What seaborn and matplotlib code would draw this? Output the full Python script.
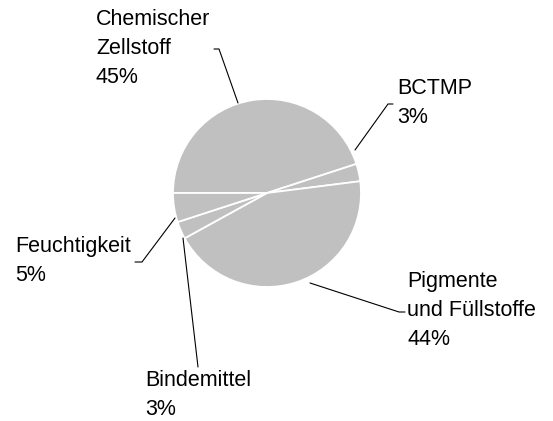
import matplotlib
matplotlib.use("Agg")
import matplotlib.pyplot as plt
import seaborn as sns

# Zusammensetzung (Anteile in %)
categories = ["Chemischer\nZellstoff", "BCTMP", "Pigmente\nund Füllstoffe", "Bindemittel", "Feuchtigkeit"]
shares = [45, 3, 44, 3, 5]

W, H = 553, 421
sns.set_theme(style="white")
plt.rcParams["font.family"] = ["Liberation Sans", "DejaVu Sans"]

fig = plt.figure(figsize=(W / 100, H / 100), dpi=100)
ax = fig.add_axes([0, 0, 1, 1])


def px(x, y):
    # pixel position (y from top) -> data coords
    return x, H - y


wedges, _ = ax.pie(
    shares,
    colors=["#c0c0c0"] * len(shares),
    startangle=180,
    counterclock=False,
    center=px(267, 193),
    radius=94,
    wedgeprops=dict(edgecolor="white", linewidth=1.3),
)
ax.set_xlim(0, W)
ax.set_ylim(0, H)
ax.set_aspect("equal")
ax.axis("off")

# label layout: baseline of last text line, tick end, bend, end near pie
label_layout = [
    ((96, 83), (214, 49), (219, 49), (238, 103)),
    ((397, 123), (393, 104), (388, 104), (355, 150)),
    ((407, 345), (405, 312), (399, 312), (310, 283)),
    ((145, 415), None, (198, 367), (183, 238)),
    ((15, 281), (135, 262), (142, 262), (175, 218)),
]

for cat, share, (txt, tick, bend, end) in zip(categories, shares, label_layout):
    ax.text(*px(*txt), f"{cat}\n{share}%", ha="left", va="baseline",
            fontsize=15.5, linespacing=1.5, color="black")
    pts = [p for p in (tick, bend, end) if p is not None]
    xs, ys = zip(*[px(*p) for p in pts])
    ax.plot(xs, ys, color="black", lw=0.8)

fig.savefig("out.png", dpi=100)
